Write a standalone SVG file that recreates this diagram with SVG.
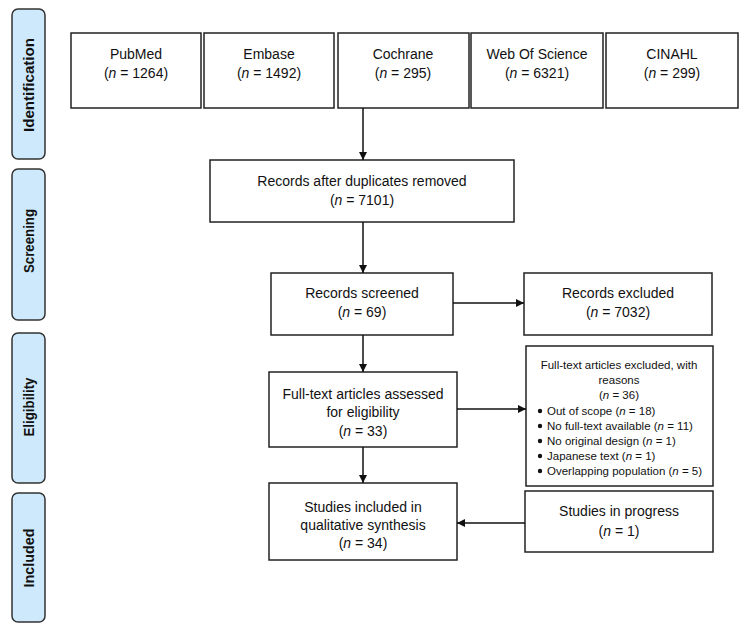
<svg xmlns="http://www.w3.org/2000/svg" width="752" height="630" viewBox="0 0 752 630">
<style>
.stage rect{fill:#cde9fb;stroke:#333;stroke-width:1.5}
.stage text{font-family:"Liberation Sans",Arial,sans-serif;font-weight:bold;font-size:14px;fill:#111;text-anchor:middle;dominant-baseline:central}
.box rect{fill:#fff;stroke:#222;stroke-width:1.5}
.box text{font-family:"Liberation Sans",Arial,sans-serif;font-size:14px;fill:#111;text-anchor:middle;dominant-baseline:central}
.box text.sm{font-size:11.5px}
.box text.l{text-anchor:start}
.conn line{stroke:#111;stroke-width:1.5;fill:none}
</style>
<defs>
<marker id="ah" viewBox="0 0 10 10" refX="10" refY="5" markerWidth="8" markerHeight="8" markerUnits="userSpaceOnUse" orient="auto"><path d="M0,0 L10,5 L0,10 z" fill="#111"/></marker>
</defs>
<rect width="752" height="630" fill="#fff"/>
<g id="stage-identification" class="stage"><rect x="12" y="9" width="33" height="150" rx="6"/><text transform="translate(29,85) rotate(-90)" textLength="94" lengthAdjust="spacingAndGlyphs">Identification</text></g>
<g id="stage-screening" class="stage"><rect x="12" y="169" width="33" height="151" rx="6"/><text transform="translate(29,241) rotate(-90)" textLength="64" lengthAdjust="spacingAndGlyphs">Screening</text></g>
<g id="stage-eligibility" class="stage"><rect x="12" y="333" width="33" height="150" rx="6"/><text transform="translate(29,407) rotate(-90)" textLength="59" lengthAdjust="spacingAndGlyphs">Eligibility</text></g>
<g id="stage-included" class="stage"><rect x="12" y="493" width="33" height="129" rx="6"/><text transform="translate(29,558) rotate(-90)" textLength="59" lengthAdjust="spacingAndGlyphs">Included</text></g>

<g id="pubmed" class="box"><rect x="71" y="33" width="130" height="75"/><text x="136" y="54">PubMed</text><text x="136" y="73">(<tspan font-style="italic">n</tspan> = 1264)</text></g>
<g id="embase" class="box"><rect x="204" y="33" width="130" height="75"/><text x="269" y="54">Embase</text><text x="269" y="73">(<tspan font-style="italic">n</tspan> = 1492)</text></g>
<g id="cochrane" class="box"><rect x="338" y="33" width="131" height="75"/><text x="403" y="54">Cochrane</text><text x="403" y="73">(<tspan font-style="italic">n</tspan> = 295)</text></g>
<g id="wos" class="box"><rect x="471" y="33" width="132" height="75"/><text x="537" y="54">Web Of Science</text><text x="537" y="73">(<tspan font-style="italic">n</tspan> = 6321)</text></g>
<g id="cinahl" class="box"><rect x="606" y="33" width="132" height="75"/><text x="672" y="54">CINAHL</text><text x="672" y="73">(<tspan font-style="italic">n</tspan> = 299)</text></g>

<g id="dedup" class="box"><rect x="210" y="160" width="304" height="62"/><text x="362" y="181">Records after duplicates removed</text><text x="362" y="200">(<tspan font-style="italic">n</tspan> = 7101)</text></g>
<g id="screened" class="box"><rect x="271" y="273" width="182" height="62"/><text x="362" y="293">Records screened</text><text x="362" y="312">(<tspan font-style="italic">n</tspan> = 69)</text></g>
<g id="excluded" class="box"><rect x="524" y="273" width="188" height="62"/><text x="618" y="293">Records excluded</text><text x="618" y="312">(<tspan font-style="italic">n</tspan> = 7032)</text></g>
<g id="fulltext" class="box"><rect x="269" y="372" width="188" height="75"/><text x="363" y="394">Full-text articles assessed</text><text x="363" y="412">for eligibility</text><text x="363" y="431">(<tspan font-style="italic">n</tspan> = 33)</text></g>
<g id="ftexcluded" class="box"><rect x="526" y="346" width="187" height="140"/>
<text class="sm" x="619" y="365">Full-text articles excluded, with</text>
<text class="sm" x="619" y="380">reasons</text>
<text class="sm" x="619" y="395">(<tspan font-style="italic">n</tspan> = 36)</text>
<g fill="#111"><circle cx="540" cy="411" r="2.2"/><circle cx="540" cy="426" r="2.2"/><circle cx="540" cy="441" r="2.2"/><circle cx="540" cy="456" r="2.2"/><circle cx="540" cy="471" r="2.2"/></g>
<text class="sm l" x="547" y="411">Out of scope (<tspan font-style="italic">n</tspan> = 18)</text>
<text class="sm l" x="547" y="426">No full-text available (<tspan font-style="italic">n</tspan> = 11)</text>
<text class="sm l" x="547" y="441">No original design (<tspan font-style="italic">n</tspan> = 1)</text>
<text class="sm l" x="547" y="456">Japanese text (<tspan font-style="italic">n</tspan> = 1)</text>
<text class="sm l" x="547" y="471">Overlapping population (<tspan font-style="italic">n</tspan> = 5)</text>
</g>
<g id="included" class="box"><rect x="269" y="483" width="188" height="77"/><text x="363" y="507">Studies included in</text><text x="363" y="525">qualitative synthesis</text><text x="363" y="543">(<tspan font-style="italic">n</tspan> = 34)</text></g>
<g id="inprogress" class="box"><rect x="525" y="491" width="188" height="61"/><text x="619" y="511">Studies in progress</text><text x="619" y="531">(<tspan font-style="italic">n</tspan> = 1)</text></g>

<g id="connectors" class="conn">
<line x1="363" y1="108" x2="363" y2="160" marker-end="url(#ah)"/>
<line x1="363" y1="222" x2="363" y2="273" marker-end="url(#ah)"/>
<line x1="453" y1="303" x2="524" y2="303" marker-end="url(#ah)"/>
<line x1="363" y1="335" x2="363" y2="372" marker-end="url(#ah)"/>
<line x1="457" y1="409" x2="526" y2="409" marker-end="url(#ah)"/>
<line x1="363" y1="447" x2="363" y2="483" marker-end="url(#ah)"/>
<line x1="525" y1="523" x2="457" y2="523" marker-end="url(#ah)"/>
</g>
</svg>
